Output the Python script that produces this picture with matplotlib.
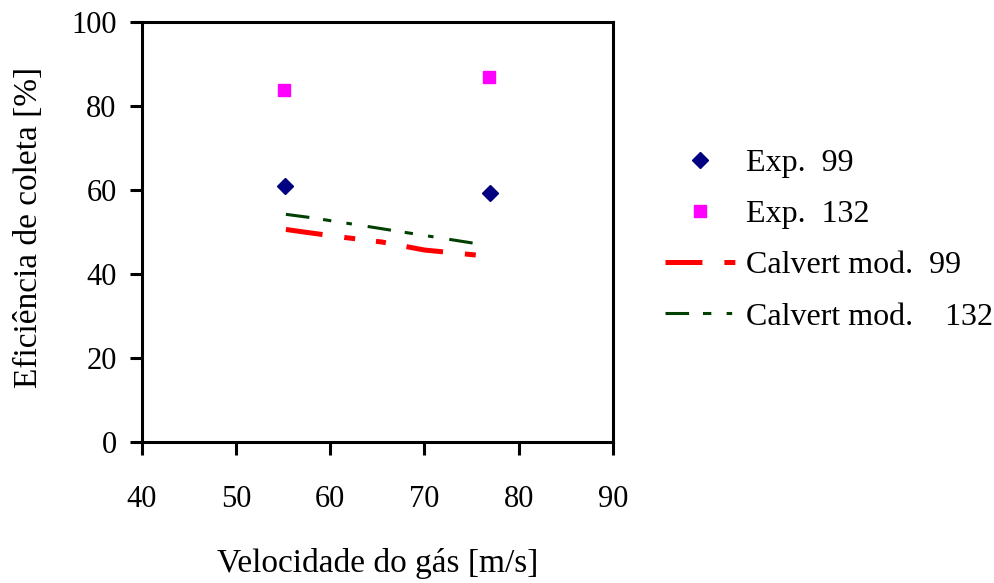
import matplotlib.pyplot as plt

plt.rcParams['font.family'] = ['Liberation Serif', 'DejaVu Serif']
plt.rcParams['lines.scale_dashes'] = False

# experimental collection efficiency
vel_exp_99 = [55.2, 76.9]
eff_exp_99 = [61.0, 59.2]
vel_exp_132 = [55.1, 76.8]
eff_exp_132 = [83.8, 86.8]

# modified Calvert model curves
vel_calv_99 = [55.3, 57.5, 61.5, 65.5, 70.0, 75.5]
eff_calv_99 = [50.6, 49.9, 48.7, 47.6, 45.7, 44.5]
vel_calv_132 = [55.3, 58.0, 64.0, 68.5, 75.3]
eff_calv_132 = [54.2, 53.4, 51.3, 49.7, 47.3]

xticks = [40, 50, 60, 70, 80, 90]
yticks = [0, 20, 40, 60, 80, 100]

fig = plt.figure(figsize=(9.95, 5.83), dpi=100)
ax = fig.add_axes([0.1424, 0.2419, 0.4737, 0.7204])

ax.plot(vel_exp_99, eff_exp_99, linestyle='none', marker='D', markersize=8,
        color='#000080', label='Exp.  99')
ax.plot(vel_exp_132, eff_exp_132, linestyle='none', marker='s', markersize=8,
        color='#ff00ff', label='Exp.  132')
ax.plot(vel_calv_99, eff_calv_99, color='#ff0000', linewidth=3.6,
        dashes=(26.6, 15.8, 7.9, 15.1, 7.2, 15.1), label='Calvert mod.  99')
ax.plot(vel_calv_132, eff_calv_132, color='#004000', linewidth=2.2,
        dashes=(17, 10, 6, 11, 4, 11.5), label='Calvert mod.    132')

ax.set_xlim(40, 90)
ax.set_ylim(0, 100)
ax.set_xticks(xticks)
ax.set_yticks(yticks)

for s in ax.spines.values():
    s.set_linewidth(2.2)
ax.tick_params(axis='both', direction='out', length=9, width=2.2, labelsize=22)
ax.tick_params(axis='x', pad=22)
ax.tick_params(axis='y', pad=9)

ax.set_xlabel('Velocidade do gás [m/s]', fontsize=24)
ax.xaxis.label.set_va('center')
ax.xaxis.set_label_coords(0.5, -0.29)
ax.set_ylabel('Eficiência de coleta [%]', fontsize=24)
ax.yaxis.label.set_va('center')
ax.yaxis.label.set_ha('center')
ax.yaxis.set_label_coords(-0.24, 0.51)

fig.legend(loc='center left', bbox_to_anchor=(0.668, 0.588), frameon=False,
           fontsize=23, handlelength=2.19, handletextpad=0.37, labelspacing=0.68,
           borderpad=0, borderaxespad=0)

fig.savefig('out.png', dpi=100)
